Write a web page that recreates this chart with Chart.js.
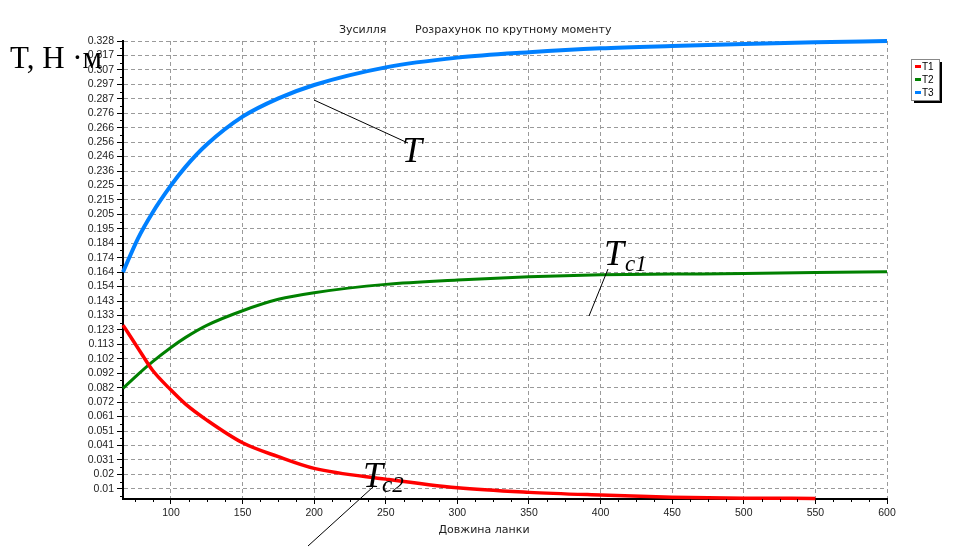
<!DOCTYPE html>
<html>
<head>
<meta charset="utf-8">
<script src="https://cdn.jsdelivr.net/npm/chart.js@4.4.0/dist/chart.umd.min.js"></script>
<style>
  html, body { margin: 0; padding: 0; background: #fff; }
  #wrap { width: 958px; height: 549px; position: relative; }
</style>
</head>
<body>
<div id="wrap"><canvas id="chart" width="958" height="549"></canvas></div>
<script>
// Довжина ланки (x)
const lengths = [66.5, 77, 87, 100, 110, 125, 150, 175, 200, 250, 300, 350, 400, 450, 500, 550, 600];

// Зусилля, Н·м
const t1 = [0.1264, 0.110, 0.0945, 0.0803, 0.0705, 0.059, 0.0429, 0.033, 0.0247, 0.0171, 0.0109, 0.0077, 0.0058, 0.0043, 0.0036, 0.0034];
const t2 = [0.0815, 0.0915, 0.1003, 0.1105, 0.1175, 0.1262, 0.1366, 0.1447, 0.1494, 0.1553, 0.1584, 0.1607, 0.1621, 0.1626, 0.1630, 0.1638, 0.1642];
const t3 = [0.164, 0.188, 0.206, 0.2255, 0.2385, 0.2545, 0.2743, 0.2873, 0.2968, 0.3093, 0.3162, 0.3200, 0.3228, 0.3245, 0.3259, 0.3271, 0.328];

const seriesNames = ['T1', 'T2', 'T3'];
const seriesColors = ['#ff0000', '#008000', '#0080ff'];

const xTicks = [100, 150, 200, 250, 300, 350, 400, 450, 500, 550, 600];
const yTickLabels = ['0.328', '0.317', '0.307', '0.297', '0.287', '0.276', '0.266', '0.256', '0.246', '0.236',
  '0.225', '0.215', '0.205', '0.195', '0.184', '0.174', '0.164', '0.154', '0.143', '0.133', '0.123', '0.113',
  '0.102', '0.092', '0.082', '0.072', '0.061', '0.051', '0.041', '0.031', '0.02', '0.01'];

const yMin = 0.003, yMax = 0.328, yStep = 0.01025;
const yTicks = yTickLabels.map((_, i) => yMax - i * yStep);

const toPoints = arr => arr.map((v, i) => ({ x: lengths[i], y: v }));

// legend, titles and hand-drawn callouts
const overlay = {
  id: 'overlay',
  afterDraw(chart) {
    const ctx = chart.ctx;
    const { x, y } = chart.scales;
    ctx.save();

    // minor ticks
    ctx.strokeStyle = '#000';
    ctx.lineWidth = 1;
    ctx.beginPath();
    for (let v = 75; v < 600; v += 12.5) {
      if (v % 50 === 0) continue;
      const px = Math.round(x.getPixelForValue(v)) + 0.5;
      ctx.moveTo(px, y.bottom); ctx.lineTo(px, y.bottom + 3);
    }
    for (let i = 0; i < yTicks.length; i++) {
      const py = Math.round(y.getPixelForValue(yTicks[i] - yStep / 2)) + 0.5;
      if (py > y.bottom) continue;
      ctx.moveTo(x.left - 3, py); ctx.lineTo(x.left, py);
    }
    ctx.stroke();

    // title
    ctx.fillStyle = '#222';
    ctx.font = '11px "DejaVu Sans"';
    ctx.textBaseline = 'middle';
    ctx.textAlign = 'left';
    ctx.fillText('Зусилля', 339, 30);
    ctx.fillText('Розрахунок по крутному моменту', 415, 30);
    ctx.textAlign = 'center';
    ctx.fillText('Довжина ланки', 484, 530);

    // legend
    ctx.fillStyle = '#000';
    ctx.fillRect(914, 62, 28, 41);
    ctx.fillStyle = '#fff';
    ctx.fillRect(911, 59, 28, 41);
    ctx.strokeStyle = '#888';
    ctx.strokeRect(911.5, 59.5, 28, 41);
    ctx.font = '10px "Liberation Sans"';
    ctx.textAlign = 'left';
    seriesNames.forEach((name, i) => {
      const ly = 66 + i * 13;
      ctx.fillStyle = seriesColors[i];
      ctx.fillRect(915, ly - 1, 6, 3);
      ctx.fillStyle = '#000';
      ctx.fillText(name, 922, ly + 1);
    });

    // axis label
    ctx.textBaseline = 'alphabetic';
    ctx.font = '31px "Liberation Serif"';
    ctx.fillStyle = '#000';
    ctx.fillText('T, Н ·м', 10, 68);

    // callouts
    ctx.strokeStyle = '#000';
    ctx.lineWidth = 1;
    ctx.beginPath();
    ctx.moveTo(314, 100); ctx.lineTo(408, 143);
    ctx.moveTo(608, 269); ctx.lineTo(589, 316);
    ctx.moveTo(373, 487); ctx.lineTo(308, 546);
    ctx.stroke();

    ctx.font = 'italic 36px "Liberation Serif"';
    ctx.fillText('T', 402, 162);
    ctx.fillText('T', 604, 265);
    ctx.fillText('T', 363, 487);
    ctx.font = 'italic 23px "Liberation Serif"';
    ctx.fillText('c1', 625, 271);
    ctx.fillText('c2', 382, 492);

    ctx.restore();
  }
};

const tickFont = { family: '"Liberation Sans", Arial, sans-serif', size: 10.5 };

new Chart(document.getElementById('chart'), {
  type: 'line',
  data: {
    datasets: [t1, t2, t3].map((arr, i) => ({
      label: seriesNames[i],
      data: toPoints(arr),
      borderColor: seriesColors[i],
      backgroundColor: seriesColors[i],
      borderWidth: [3.5, 3, 4][i],
      pointRadius: 0,
      cubicInterpolationMode: 'monotone',
      clip: false
    }))
  },
  options: {
    responsive: false,
    animation: false,
    layout: { padding: { left: 0, top: 41, right: 71, bottom: 0 } },
    plugins: { legend: { display: false }, tooltip: { enabled: false } },
    scales: {
      x: {
        type: 'linear',
        min: 66.5,
        max: 600,
        afterBuildTicks: s => { s.ticks = xTicks.map(v => ({ value: v })); },
        afterFit: s => { s.height = 50; },
        grid: { color: '#9a9a9a', lineWidth: 1, tickColor: '#000', tickLength: 5, tickBorderDash: [] },
        border: { display: true, color: '#000', width: 2, dash: [4, 3] },
        ticks: { color: '#222', font: tickFont, padding: 3, maxRotation: 0, autoSkip: false }
      },
      y: {
        type: 'linear',
        min: yMin,
        max: yMax,
        afterBuildTicks: s => { s.ticks = yTicks.map(v => ({ value: v })); },
        afterFit: s => { s.width = 123; },
        grid: { color: '#9a9a9a', lineWidth: 1, tickColor: '#000', tickLength: 6, tickBorderDash: [] },
        border: { display: true, color: '#000', width: 2, dash: [4, 3] },
        ticks: {
          color: '#222', font: tickFont, padding: 3, autoSkip: false,
          callback: (v, i) => yTickLabels[i]
        }
      }
    }
  },
  plugins: [overlay]
});
</script>
</body>
</html>
